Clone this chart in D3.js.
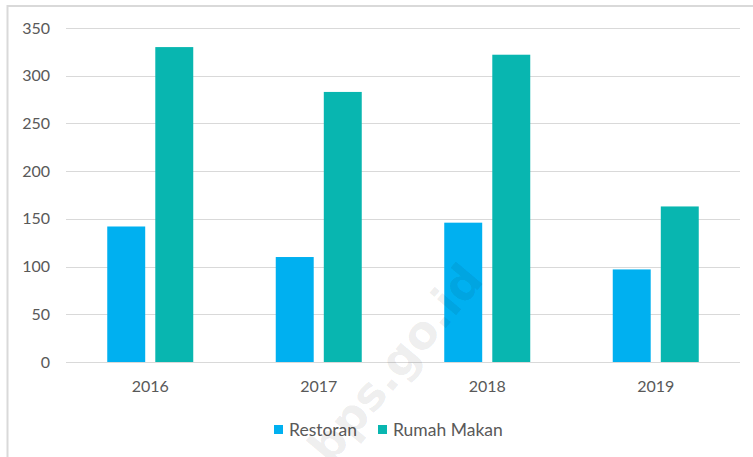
<!DOCTYPE html>
<html><head><meta charset="utf-8">
<script src="https://cdn.jsdelivr.net/npm/d3@7"></script>
<style>html,body{margin:0;padding:0;background:#fff;}svg{display:block;}</style>
</head><body>
<script>
const categories = ["2016", "2017", "2018", "2019"];
const seriesNames = ["Restoran", "Rumah Makan"];
const restoran = [142, 110, 146, 97];
const rumahMakan = [330, 283, 322, 163];
const yTicks = [0, 50, 100, 150, 200, 250, 300, 350];
const colors = ["#00B0F0", "#08B6B0"];

(function () {
const W = 753, H = 457;
const svg = d3.select("body").append("svg").attr("width", W).attr("height", H);
const font = "Lato, 'Open Sans', sans-serif";

// frame
svg.append("rect").attr("x", 7.5).attr("y", 6).attr("width", W).attr("height", H)
  .attr("fill", "none").attr("stroke", "#d9d9d9").attr("stroke-width", 2);

const mLeft = 66, mRight = 740, mTop = 28, mBottom = 362;
const x0 = d3.scaleBand().domain(categories).range([mLeft, mRight]).padding(0);
const groupW = 86;
const x1 = d3.scaleBand().domain(seriesNames).range([0, groupW]).paddingInner(0.21);
const y = d3.scaleLinear().domain([0, 350]).range([mBottom, mTop]);

// grid
svg.append("g").selectAll("line").data(yTicks).join("line")
  .attr("x1", mLeft).attr("x2", mRight)
  .attr("y1", d => Math.round(y(d)) + 0.5).attr("y2", d => Math.round(y(d)) + 0.5)
  .attr("stroke", "#d9d9d9").attr("stroke-width", 1);

// y labels
svg.append("g").selectAll("text").data(yTicks).join("text")
  .attr("x", 50).attr("y", d => y(d)).attr("dy", "0.35em")
  .attr("text-anchor", "end").attr("fill", "#595959")
  .style("font-family", font).style("font-size", "16px").text(d => d);

// bars
const data = categories.map((c, i) => ({c, vals: [restoran[i], rumahMakan[i]]}));
const g = svg.append("g").selectAll("g").data(data).join("g")
  .attr("transform", d => `translate(${x0(d.c) + (x0.bandwidth() - groupW) / 2},0)`);
g.selectAll("rect").data(d => d.vals.map((v, j) => ({v, s: seriesNames[j], j}))).join("rect")
  .attr("x", d => x1(d.s)).attr("width", x1.bandwidth())
  .attr("y", d => y(d.v)).attr("height", d => y(0) - y(d.v))
  .attr("fill", d => colors[d.j]);

// x labels
svg.append("g").selectAll("text").data(categories).join("text")
  .attr("x", d => x0(d) + x0.bandwidth() / 2).attr("y", 392)
  .attr("text-anchor", "middle").attr("fill", "#595959")
  .style("font-family", font).style("font-size", "16px").text(d => d);

// legend
const legendX = [274, 378];
const lg = svg.append("g").selectAll("g").data(seriesNames).join("g")
  .attr("transform", (d, i) => `translate(${legendX[i]},425)`);
lg.append("rect").attr("width", 9).attr("height", 9).attr("fill", (d, i) => colors[i]);
lg.append("text").attr("x", 15).attr("y", 10.5).attr("fill", "#595959")
  .style("font-family", font).style("font-size", "17.5px").text(d => d);

// watermark
svg.append("text").attr("transform", "translate(330,466) rotate(-50)")
  .attr("fill", "#000").attr("fill-opacity", 0.08)
  .style("font-family", "'DejaVu Sans', sans-serif").style("font-weight", "bold").style("font-size", "46px")
  .text("bps.go.id");
})();
</script>
</body></html>
